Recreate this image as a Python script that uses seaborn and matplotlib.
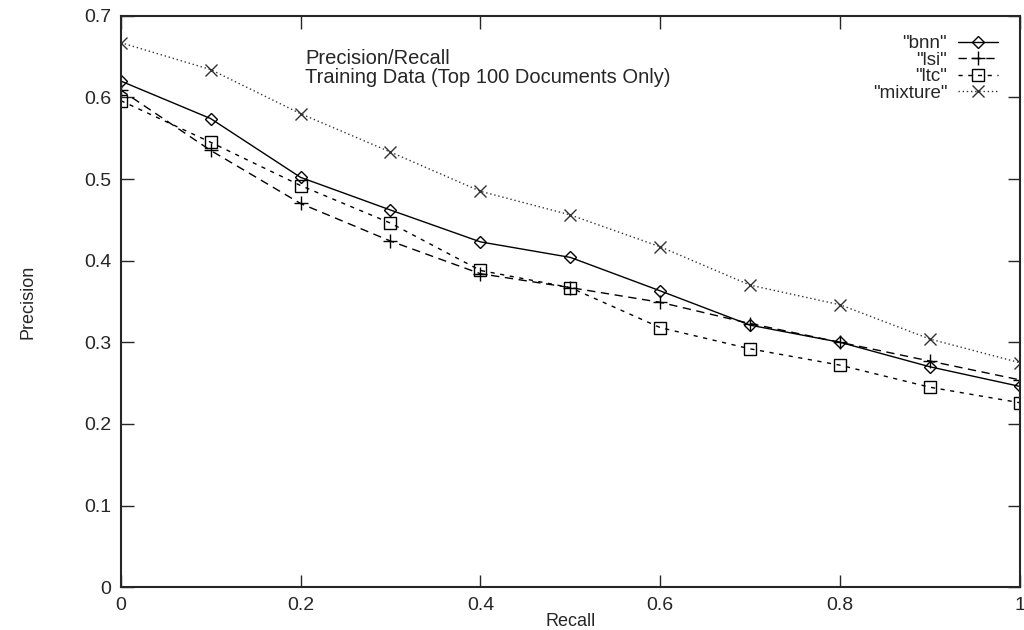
import matplotlib
matplotlib.use("Agg")
import matplotlib.pyplot as plt
import seaborn as sns
import pandas as pd

recall = [0.0, 0.1, 0.2, 0.3, 0.4, 0.5, 0.6, 0.7, 0.8, 0.9, 1.0]
bnn = [0.620, 0.574, 0.502, 0.462, 0.423, 0.404, 0.363, 0.321, 0.300, 0.270, 0.246]
lsi = [0.609, 0.535, 0.470, 0.424, 0.384, 0.367, 0.349, 0.323, 0.300, 0.277, 0.254]
ltc = [0.596, 0.545, 0.492, 0.446, 0.388, 0.367, 0.318, 0.292, 0.272, 0.245, 0.226]
mixture = [0.667, 0.634, 0.580, 0.533, 0.485, 0.456, 0.417, 0.370, 0.346, 0.304, 0.275]

series_names = ['"bnn"', '"lsi"', '"ltc"', '"mixture"']
series_values = [bnn, lsi, ltc, mixture]

x_ticks = [0, 0.2, 0.4, 0.6, 0.8, 1.0]
x_ticklabels = ["0", "0.2", "0.4", "0.6", "0.8", "1"]
y_ticks = [0, 0.1, 0.2, 0.3, 0.4, 0.5, 0.6, 0.7]
y_ticklabels = ["0", "0.1", "0.2", "0.3", "0.4", "0.5", "0.6", "0.7"]

title_lines = "Precision/Recall\nTraining Data (Top 100 Documents Only)"

sns.set_style("ticks")
plt.rcParams['font.family'] = ['Liberation Sans', 'DejaVu Sans']

df = pd.DataFrame({
    "Recall": recall * len(series_names),
    "Precision": sum(series_values, []),
    "series": [n for n in series_names for _ in recall],
})

fig = plt.figure(figsize=(10.24, 6.3), dpi=100)
ax = fig.add_axes([0.1179, 0.0678, 0.8781, 0.9073])

styles = {
    '"bnn"': dict(linestyle="-", marker="D", markersize=6, color="black"),
    '"lsi"': dict(linestyle=(0, (6, 4)), marker="+", markersize=10, color="black"),
    '"ltc"': dict(linestyle=(0, (3, 4)), marker="s", markersize=9, color="black"),
    '"mixture"': dict(linestyle=(0, (1, 2)), marker="x", markersize=9, color="#333333"),
}

for name in series_names:
    st = styles[name]
    sub = df[df["series"] == name]
    sns.lineplot(data=sub, x="Recall", y="Precision", ax=ax, label=name,
                 color=st["color"], linestyle=st["linestyle"], linewidth=1.0,
                 marker=st["marker"], markersize=st["markersize"],
                 markerfacecolor="none", markeredgecolor=st["color"],
                 markeredgewidth=1.0, estimator=None, sort=False)

ax.set_xlim(0, 1)
ax.set_ylim(0, 0.7)
ax.set_xticks(x_ticks)
ax.set_xticklabels(x_ticklabels)
ax.set_yticks(y_ticks)
ax.set_yticklabels(y_ticklabels)
ax.tick_params(direction="in", length=9, width=1.0, top=True, right=True,
               labelsize=14, pad=7)
for s in ax.spines.values():
    s.set_linewidth(1.5)
    s.set_visible(True)

ax.set_xlabel("Recall", fontsize=13, labelpad=-1)
ax.set_ylabel("Precision", fontsize=13, labelpad=34)

ax.text(0.205, 0.659, title_lines, fontsize=14.5, va="top", ha="left",
        linespacing=1.0)

leg = ax.legend(loc="upper right", bbox_to_anchor=(0.9755, 0.966), frameon=False,
                markerfirst=False, fontsize=13.5, handlelength=2.1,
                handletextpad=0.6, labelspacing=-0.03, borderaxespad=0.0,
                borderpad=0.0)
for t in leg.get_texts():
    t.set_ha("right")

fig.savefig("out.png", dpi=100)
